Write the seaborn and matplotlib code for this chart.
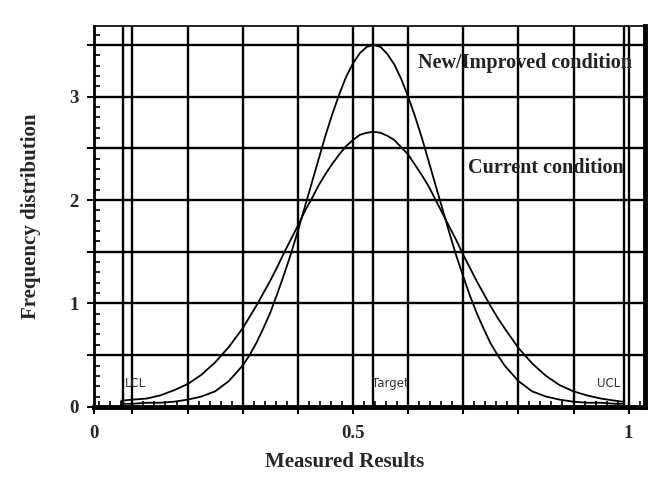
import numpy as np
import pandas as pd
import matplotlib
matplotlib.use("Agg")
import matplotlib.pyplot as plt
import seaborn as sns
from matplotlib.ticker import MultipleLocator, FixedLocator

# ---- data ----
x_vals = [0.08, 0.10, 0.125, 0.15, 0.175, 0.20, 0.225, 0.25, 0.275,
          0.30, 0.3125, 0.325, 0.3375, 0.35, 0.3625, 0.375, 0.3875, 0.40, 0.4125,
          0.425, 0.4375, 0.45, 0.4625, 0.475, 0.4875, 0.50, 0.5125, 0.525, 0.5375,
          0.55, 0.5625, 0.575, 0.5875, 0.60, 0.6125, 0.625, 0.6375, 0.65, 0.6625,
          0.675, 0.6875, 0.70, 0.7125, 0.725, 0.7375, 0.75, 0.7625, 0.775,
          0.80, 0.825, 0.85, 0.875, 0.90, 0.925, 0.95, 0.975, 0.99]
improved = [0.03, 0.03, 0.04, 0.04, 0.05, 0.07, 0.10, 0.15, 0.25,
            0.40, 0.50, 0.62, 0.76, 0.91, 1.09, 1.28, 1.48, 1.70, 1.93,
            2.16, 2.39, 2.62, 2.83, 3.02, 3.19, 3.32, 3.42, 3.48, 3.50,
            3.48, 3.41, 3.31, 3.17, 3.00, 2.81, 2.60, 2.37, 2.14, 1.91,
            1.68, 1.46, 1.26, 1.07, 0.90, 0.75, 0.61, 0.50, 0.40,
            0.25, 0.15, 0.10, 0.07, 0.05, 0.04, 0.04, 0.03, 0.03]
current = [0.06, 0.07, 0.08, 0.11, 0.16, 0.22, 0.31, 0.43, 0.58,
           0.76, 0.87, 0.98, 1.10, 1.22, 1.35, 1.49, 1.62, 1.75, 1.89,
           2.01, 2.14, 2.25, 2.35, 2.44, 2.52, 2.58, 2.63, 2.65, 2.66,
           2.65, 2.62, 2.58, 2.51, 2.44, 2.34, 2.24, 2.13, 2.00, 1.87,
           1.74, 1.61, 1.47, 1.34, 1.21, 1.09, 0.97, 0.86, 0.76,
           0.57, 0.42, 0.30, 0.21, 0.15, 0.11, 0.08, 0.06, 0.05]
limit_names = ["LCL", "Target", "UCL"]
limit_pos = [0.083, 0.537, 0.992]
curve_labels = ["New/Improved condition", "Current condition"]
x_tick_labels = ["0", "0.5", "1"]
y_tick_labels = ["0", "1", "2", "3"]

df = pd.DataFrame({
    "x": x_vals * 2,
    "y": improved + current,
    "cond": [curve_labels[0]] * len(x_vals) + [curve_labels[1]] * len(x_vals),
})

sns.set_style("white")
plt.rcParams["font.family"] = ["Liberation Serif", "DejaVu Serif"]

fig = plt.figure(figsize=(6.7, 4.95), dpi=100)
ax = fig.add_axes([0.140, 0.178, 0.823, 0.769])

x0, x1 = 0.03, 1.03
ax.set_xlim(x0, x1)
ax.set_ylim(0, 3.68)

# grid lines
for gx in np.arange(0.1, 1.01, 0.1):
    ax.axvline(gx, color="black", lw=1.7, zorder=1)
for gy in np.arange(0.5, 3.51, 0.5):
    ax.axhline(gy, color="black", lw=1.7, zorder=1)
for p in limit_pos:
    ax.axvline(p, color="black", lw=1.7, zorder=1)

sns.lineplot(data=df, x="x", y="y", units="cond", estimator=None, sort=False,
             color="black", lw=1.3, ax=ax, legend=False, zorder=3)

# labels of limits
lim_kw = dict(family="DejaVu Sans", fontsize=8.5, color="#333333", va="center")
ax.text(limit_pos[0] + 0.004, 0.23, limit_names[0], ha="left", **lim_kw)
ax.text(limit_pos[1] - 0.002, 0.23, limit_names[1], ha="left", **lim_kw)
ax.text(limit_pos[2] - 0.008, 0.23, limit_names[2], ha="right", **lim_kw)

# curve labels
ax.text(0.618, 3.32, curve_labels[0], fontsize=14.5, fontweight="bold",
        color="#222222", va="center", ha="left")
ax.text(0.708, 2.31, curve_labels[1], fontsize=14.5, fontweight="bold",
        color="#222222", va="center", ha="left")

# ticks
major_x = [x0] + list(np.round(np.arange(0.1, 1.01, 0.1), 2))
ax.xaxis.set_major_locator(FixedLocator(major_x))
xl = []
for v in major_x:
    if v == x0:
        xl.append(x_tick_labels[0])
    elif abs(v - 0.5) < 1e-6:
        xl.append(x_tick_labels[1])
    elif abs(v - 1.0) < 1e-6:
        xl.append(x_tick_labels[2])
    else:
        xl.append("")
ax.set_xticklabels(xl)
ax.xaxis.set_minor_locator(MultipleLocator(0.02))

major_y = list(np.arange(0, 3.51, 0.5))
ax.yaxis.set_major_locator(FixedLocator(major_y))
ax.set_yticklabels([y_tick_labels[int(v)] if abs(v - round(v)) < 1e-6 else "" for v in major_y])
ax.yaxis.set_minor_locator(MultipleLocator(0.1))

ax.tick_params(axis="both", which="major", direction="out", length=5, width=1.5,
               labelsize=13.5, bottom=True, left=True, color="black")
ax.tick_params(axis="both", which="minor", direction="in", length=4, width=1.2,
               bottom=True, left=True, color="black")
for lab in ax.get_xticklabels() + ax.get_yticklabels():
    lab.set_fontweight("bold")
ax.tick_params(axis="x", pad=8)
ax.tick_params(axis="y", pad=6)

for s in ["left", "bottom", "right", "top"]:
    ax.spines[s].set_visible(True)
    ax.spines[s].set_color("black")
ax.spines["bottom"].set_linewidth(3.5)
ax.spines["left"].set_linewidth(2)
ax.spines["right"].set_linewidth(3.5)
ax.spines["top"].set_linewidth(1.2)

ax.set_xlabel("Measured Results", fontsize=15, fontweight="bold")
ax.xaxis.set_label_coords(0.455, -0.118)
ax.set_ylabel("Frequency distribution", fontsize=15, fontweight="bold", labelpad=20)

fig.savefig("out.png", dpi=100, facecolor="white")
